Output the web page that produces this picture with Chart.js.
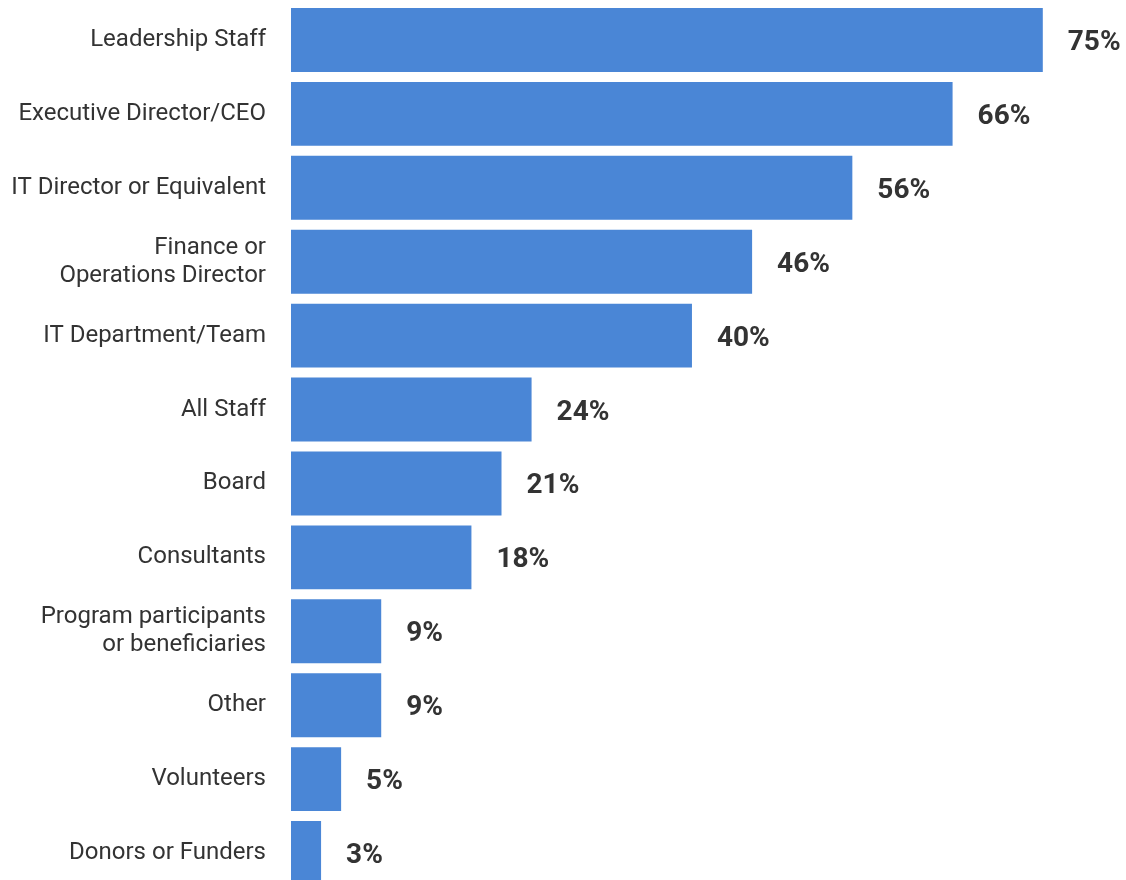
<!DOCTYPE html>
<html>
<head>
<meta charset="utf-8">
<script src="https://cdn.jsdelivr.net/npm/chart.js@4"></script>
<style>
  html, body { margin: 0; padding: 0; background: #fff; overflow: hidden; }
  #wrap { width: 1126px; height: 890px; position: relative; }
</style>
</head>
<body>
<div id="wrap"><canvas id="grafico"></canvas></div>
<script>
// categorias e valores (%)
var categorias = [
  'Leadership Staff',
  'Executive Director/CEO',
  'IT Director or Equivalent',
  ['Finance or', 'Operations Director'],
  'IT Department/Team',
  'All Staff',
  'Board',
  'Consultants',
  ['Program participants', 'or beneficiaries'],
  'Other',
  'Volunteers',
  'Donors or Funders'
];
var valores = [75, 66, 56, 46, 40, 24, 21, 18, 9, 9, 5, 3];
var rotulos = ['75%', '66%', '56%', '46%', '40%', '24%', '21%', '18%', '9%', '9%', '5%', '3%'];

var corBarra = '#4a86d6';
var corTexto = '#333333';

// escreve o valor ao lado de cada barra
var pluginRotulos = {
  id: 'rotulos',
  afterDatasetsDraw: function (chart) {
    var ctx = chart.ctx;
    var meta = chart.getDatasetMeta(0);
    ctx.save();
    ctx.font = 'bold 28px Roboto';
    ctx.fillStyle = corTexto;
    ctx.textAlign = 'left';
    ctx.textBaseline = 'middle';
    meta.data.forEach(function (bar, i) {
      ctx.fillText(rotulos[i], bar.x + 25, bar.y + 3);
    });
    ctx.restore();
  }
};

var ctx = document.getElementById('grafico').getContext('2d');
var myChart = new Chart(ctx, {
  type: 'bar',
  data: {
    labels: categorias,
    datasets: [{
      data: valores,
      backgroundColor: corBarra,
      borderWidth: 0,
      barPercentage: 0.865,
      categoryPercentage: 1
    }]
  },
  options: {
    indexAxis: 'y',
    responsive: true,
    maintainAspectRatio: false,
    animation: false,
    layout: { padding: { top: 3, bottom: 0, left: 0, right: 0 } },
    plugins: {
      legend: { display: false },
      tooltip: { enabled: false }
    },
    scales: {
      x: {
        display: false,
        min: 0,
        max: 83.3
      },
      y: {
        afterFit: function (scale) {
          // largura fixa da coluna de nomes, sem folga em cima/embaixo
          scale.width = 291;
          scale.paddingTop = 0;
          scale.paddingBottom = 0;
        },
        grid: { display: false },
        border: { display: false },
        ticks: {
          color: corTexto,
          padding: 17,
          font: { family: 'Roboto', size: 24, lineHeight: 1.15 }
        }
      }
    }
  },
  plugins: [pluginRotulos]
});
</script>
</body>
</html>
